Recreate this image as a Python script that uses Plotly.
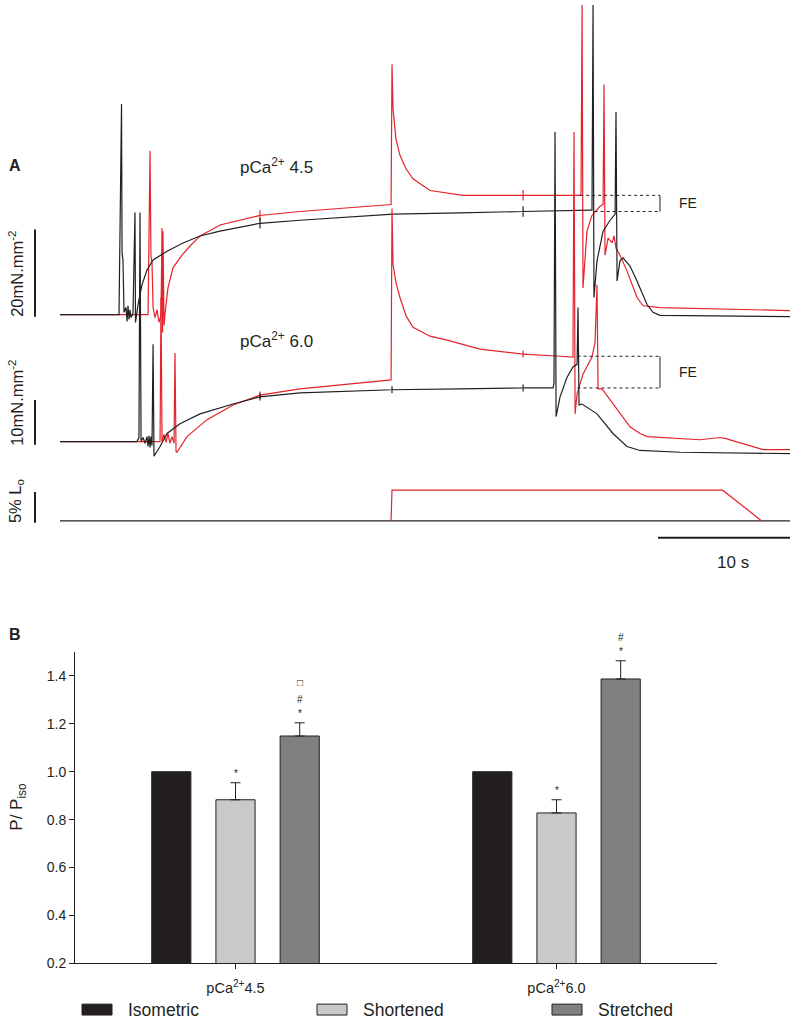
import plotly.graph_objects as go

W, H = 796, 1029
def px(x): return x / W
def py(y): return 1 - y / H

FONT = "Liberation Sans, Arial, sans-serif"
RED = "#E5232B"
BLK = "#231F20"

# ---------------- Panel A data (time in s, force in mN.mm^-2, length in % Lo) ----------------
# pCa 4.5 - isometric (black)
t45_iso = [0, 4.47, 4.66, 4.70, 4.77, 4.85, 5.0, 5.08, 5.15, 5.23, 5.30, 5.38, 5.53, 5.68, 5.72,
           5.83, 5.91, 6.21, 6.59, 7.05, 8.11, 9.32, 10.61, 12.12, 15.15, 15.15, 15.15, 15.15,
           18.18, 25.23, 30.30, 35.08, 35.08, 35.08, 35.08, 40.15, 40.30, 40.38, 40.45, 40.68,
           41.14, 41.67, 42.05, 42.12, 42.20, 42.42, 42.65, 43.18, 43.71, 44.47, 44.92, 45.45,
           48.48, 55.30]
f45_iso = [0, 0, 48.2, 14.1, 12.5, 0.5, 1.6, -1.6, 2.0, -1.1, 1.1, -0.7, 0.2, 23.4, -1.8,
           1.1, 2.3, 6.8, 10.2, 12.5, 14.5, 16.4, 18.0, 19.1, 20.9, 22.1, 19.7, 20.9,
           21.6, 23.0, 23.3, 23.6, 24.8, 22.4, 23.6, 23.9, 23.9, 70.9, 3.9, 12.3,
           19.1, 21.6, 23.0, 46.4, 7.7, 12.3, 13.0, 11.1, 7.7, 2.3, 0.5, -0.2,
           -0.3, -0.5]

# pCa 4.5 - stretched (red)
t45_str = [0, 6.67, 6.82, 6.89, 6.97, 7.05, 7.20, 7.35, 7.50, 7.65, 7.73, 7.77, 7.80, 7.88, 7.95,
           8.18, 8.56, 9.24, 9.85, 10.61, 12.12, 15.15, 15.15, 15.15, 15.15, 18.18, 21.97, 25.08,
           25.15, 25.23, 25.45, 25.76, 26.21, 26.74, 28.03, 30.53, 35.08, 35.08, 35.08, 35.08,
           39.39, 39.47, 39.55, 39.62, 39.92, 40.30, 40.91, 41.14, 41.21, 41.29, 41.52, 41.82,
           41.97, 42.12, 42.42, 42.95, 43.71, 44.17, 45.45, 48.48, 55.30]
f45_str = [0, 0, 37.5, 13.4, 11.8, 1.6, -0.7, 1.1, -1.8, -0.2, 19.8, -4.1, 19.1, -2.5, 0,
           6.1, 10.7, 13.6, 15.7, 18.0, 20.5, 22.7, 23.9, 21.5, 22.7, 23.6, 24.5, 25.2,
           57.3, 47.0, 40.2, 36.4, 33.4, 31.1, 28.4, 27.3, 27.3, 28.5, 26.1, 27.3,
           27.3, 27.7, 70.9, 6.1, 19.1, 22.7, 24.8, 25.2, 52.7, 13.6, 17.5, 16.4,
           18.0, 15.2, 13.6, 10.0, 3.9, 2.0, 1.6, 1.4, 0.9]

# pCa 6.0 - isometric (black)
t60_iso = [0, 5.83, 5.98, 6.06, 6.14, 6.29, 6.44, 6.59, 6.67, 6.74, 6.82, 6.89, 6.97, 7.05, 7.12,
           7.58, 8.11, 9.09, 10.61, 13.11, 15.15, 15.15, 15.15, 15.15, 18.18, 25.15, 25.15, 25.15,
           25.15, 30.30, 35.08, 35.08, 35.08, 35.08, 37.35, 37.42, 37.50, 37.58, 37.88, 38.41,
           38.86, 39.17, 39.24, 39.32, 39.55, 40.68, 41.89, 42.95, 43.94, 46.97, 55.30]
f60_iso = [0, 0, 0.9, 51.3, 0, 0.9, -0.4, 1.1, -1.1, 1.3, -1.3, 1.1, -0.9, 21.8, -3.3,
           -1.1, 1.8, 4.0, 6.2, 8.4, 10.0, 10.8, 9.2, 10.0, 10.9, 11.6, 12.4, 10.8,
           11.6, 11.8, 12.0, 12.8, 11.2, 12.0, 12.0, 13.0, 69.3, 5.6, 10.0, 14.4,
           16.7, 17.3, 30.0, 8.2, 8.4, 6.2, 1.8, -1.1, -2.0, -2.4, -2.7]

# pCa 6.0 - stretched (red)
t60_str = [0, 7.58, 7.65, 7.73, 7.88, 8.03, 8.18, 8.33, 8.48, 8.64, 8.71, 8.79, 8.86, 9.62, 11.14,
           13.11, 15.15, 15.15, 15.15, 15.15, 18.18, 21.97, 25.08, 25.15, 25.23, 25.45, 25.76,
           26.21, 26.74, 28.03, 29.32, 31.82, 35.08, 35.08, 35.08, 35.08, 37.88, 38.86, 38.94,
           39.02, 39.17, 39.62, 40.30, 40.53, 40.68, 40.76, 41.06, 42.20, 43.18, 43.94, 44.47,
           48.48, 50.0, 50.38, 52.05, 53.26, 55.30]
f60_str = [0, 0, 32.2, 0, 1.6, -0.2, 1.8, -0.4, 1.1, -0.4, 19.8, -2.2, -2.4, 1.1, 4.9,
           8.2, 10.4, 11.2, 9.6, 10.4, 11.8, 12.9, 13.8, 52.2, 39.6, 35.6, 32.2,
           28.2, 25.6, 23.6, 22.7, 20.7, 19.6, 20.4, 18.8, 19.6, 19.1, 18.9, 69.3,
           6.2, 10.7, 15.1, 18.9, 22.2, 35.1, 11.8, 11.8, 7.1, 3.3, 1.8, 1.1,
           0.4, 0.9, 0.7, -0.7, -1.8, -1.8]

# Length (% Lo)
t_len_iso = [0, 55.30]
l_len_iso = [0, 0]
t_len_str = [25.08, 25.15, 50.20, 53.16]
l_len_str = [0, 5, 5, 0]

# Force enhancement (FE) levels
fe45 = [23.6, 27.3]   # isometric, stretched
fe60 = [12.0, 19.1]

# ---------------- Panel B data ----------------
conditions = ["pCa 4.5", "pCa 6.0"]
cond_labels = ["pCa<sup>2+</sup>4.5", "pCa<sup>2+</sup>6.0"]
series_names = ["Isometric", "Shortened", "Stretched"]
series_colors = ["#231F20", "#C8C9CB", "#7F8082"]
iso_vals = [1.0, 1.0]
sho_vals = [0.883, 0.828]
sho_err = [0.071, 0.055]
str_vals = [1.149, 1.387]
str_err = [0.055, 0.076]
sig_marks = {  # (series, condition) -> symbols from bottom to top
    (1, 0): ["*"], (2, 0): ["*", "#", "□"],
    (1, 1): ["*"], (2, 1): ["*", "#"],
}
yticks_b = [0.2, 0.4, 0.6, 0.8, 1.0, 1.2, 1.4]

fig = go.Figure()

lw = 1.2
fig.add_trace(go.Scatter(x=t45_str, y=f45_str, mode="lines", line=dict(color=RED, width=lw),
                         xaxis="x", yaxis="y", showlegend=False, hoverinfo="skip"))
fig.add_trace(go.Scatter(x=t45_iso, y=f45_iso, mode="lines", line=dict(color=BLK, width=lw),
                         xaxis="x", yaxis="y", showlegend=False, hoverinfo="skip"))
fig.add_trace(go.Scatter(x=t60_str, y=f60_str, mode="lines", line=dict(color=RED, width=lw),
                         xaxis="x", yaxis="y2", showlegend=False, hoverinfo="skip"))
fig.add_trace(go.Scatter(x=t60_iso, y=f60_iso, mode="lines", line=dict(color=BLK, width=lw),
                         xaxis="x", yaxis="y2", showlegend=False, hoverinfo="skip"))
fig.add_trace(go.Scatter(x=t_len_iso, y=l_len_iso, mode="lines", line=dict(color=BLK, width=lw),
                         xaxis="x", yaxis="y3", showlegend=False, hoverinfo="skip"))
fig.add_trace(go.Scatter(x=t_len_str, y=l_len_str, mode="lines", line=dict(color=RED, width=lw),
                         xaxis="x", yaxis="y3", showlegend=False, hoverinfo="skip"))

# bars
all_vals = [iso_vals, sho_vals, str_vals]
all_errs = [None, sho_err, str_err]
for i, (nm, col) in enumerate(zip(series_names, series_colors)):
    kw = {}
    if all_errs[i] is not None:
        kw["error_y"] = dict(type="data", array=all_errs[i], arrayminus=[0] * len(conditions),
                             symmetric=False, color=BLK, thickness=1, width=5)
    fig.add_trace(go.Bar(x=conditions, y=all_vals[i], name=nm,
                         marker=dict(color=col, line=dict(color=BLK, width=1)),
                         xaxis="x2", yaxis="y4", showlegend=False, hoverinfo="skip", **kw))

# ---------------- layout ----------------
top_px, bot_px = 0, 535
fig.update_layout(
    width=W, height=H, margin=dict(l=0, r=0, t=0, b=0),
    paper_bgcolor="white", plot_bgcolor="rgba(0,0,0,0)",
    font=dict(family=FONT, color=BLK),
    bargap=0.4, bargroupgap=0.39, barmode="group",
    xaxis=dict(domain=[px(60), px(790)], range=[0, 55.3], visible=False, anchor="y"),
    yaxis=dict(domain=[py(bot_px), py(top_px)], range=[-(bot_px - 317) / 4.4, 317 / 4.4],
               visible=False, anchor="x"),
    yaxis2=dict(overlaying="y", anchor="x", range=[-(bot_px - 445) / 4.5, 445 / 4.5], visible=False),
    yaxis3=dict(overlaying="y", anchor="x", range=[-(bot_px - 525) / 6.2, 525 / 6.2], visible=False),
    xaxis2=dict(domain=[px(75), px(717)], anchor="y4", type="category", range=[-0.5, 1.5],
                tickmode="array", tickvals=conditions, ticktext=cond_labels,
                showline=True, linecolor=BLK, linewidth=1, ticks="outside", ticklen=5,
                tickcolor=BLK, tickfont=dict(size=14.5, color=BLK), showgrid=False,
                ticklabelstandoff=6),
    yaxis4=dict(domain=[py(971), py(657)], anchor="x2", range=[0.2, 1.5],
                tickmode="array", tickvals=yticks_b, ticktext=[f"{v:.1f}" for v in yticks_b],
                showline=True, linecolor=BLK, linewidth=1, ticks="outside", ticklen=5,
                tickcolor=BLK, tickfont=dict(size=14, color=BLK), showgrid=False, zeroline=False),
)

shapes = []
ann = []

def text(x, y, s, size, bold=False, angle=0, xanchor="center", yanchor="middle", xref="paper", yref="paper"):
    if bold:
        s = f"<b>{s}</b>"
    ann.append(dict(x=x, y=y, xref=xref, yref=yref, text=s, showarrow=False, textangle=angle,
                    font=dict(size=size, color=BLK, family=FONT), xanchor=xanchor, yanchor=yanchor))

# scale bars panel A
shapes.append(dict(type="line", xref="paper", yref="y", x0=px(35), x1=px(35), y0=-0.5, y1=19.5,
                   line=dict(color=BLK, width=2)))
shapes.append(dict(type="line", xref="paper", yref="y2", x0=px(35), x1=px(35), y0=-0.7, y1=9.3,
                   line=dict(color=BLK, width=2)))
shapes.append(dict(type="line", xref="paper", yref="y3", x0=px(35), x1=px(35), y0=-0.3, y1=4.7,
                   line=dict(color=BLK, width=2)))
shapes.append(dict(type="line", xref="x", yref="paper", x0=55.3 - 10, x1=55.3, y0=py(542), y1=py(542),
                   line=dict(color=BLK, width=2)))

# FE markers
for lev, yr, x0s in ((fe45, "y", (40.5, 39.4)), (fe60, "y2", (39.2, 39.2))):
    for lv, x0 in zip(lev, x0s):
        shapes.append(dict(type="line", xref="x", yref=yr, x0=x0, x1=45.45, y0=lv, y1=lv,
                           line=dict(color=BLK, width=1, dash="dot")))
    shapes.append(dict(type="line", xref="x", yref=yr, x0=45.45, x1=45.45, y0=lev[0], y1=lev[1],
                       line=dict(color=BLK, width=1)))
    ann.append(dict(x=47.6, y=(lev[0] + lev[1]) / 2, xref="x", yref=yr, text="FE", showarrow=False,
                    font=dict(size=14, color=BLK, family=FONT), xanchor="center", yanchor="middle"))

text(px(15), py(167), "A", 16, bold=True)
text(px(276), py(167), "pCa<sup>2+</sup> 4.5", 17)
text(px(276), py(343), "pCa<sup>2+</sup> 6.0", 17)
text(px(16), py(276), "20mN.mm<sup>-2</sup>", 16.5, angle=-90)
text(px(16), py(406), "10mN.mm<sup>-2</sup>", 16.5, angle=-90)
text(px(16), py(505), "5% L<sub>o</sub>", 16.5, angle=-90)
text(px(733), py(567), "10 s", 17)

# Panel B labels
text(px(15), py(639), "B", 16, bold=True)
text(px(18), py(813), "P/ P<sub>iso</sub>", 17, angle=-90)

offsets = [-0.2, 0.0, 0.2]
shifts = [9, 23, 40]
for (si, ci), syms in sig_marks.items():
    top = all_vals[si][ci] + (all_errs[si][ci] if all_errs[si] else 0)
    for k, s in enumerate(syms):
        ann.append(dict(x=ci + offsets[si], y=top, xref="x2", yref="y4", text=s, showarrow=False,
                        yshift=shifts[k], font=dict(size=10, color=BLK, family=FONT),
                        xanchor="center", yanchor="middle"))

# custom legend
leg_x = [82, 317, 552]
for nm, col, lx in zip(series_names, series_colors, leg_x):
    shapes.append(dict(type="rect", xref="paper", yref="paper", x0=px(lx), x1=px(lx + 30),
                       y0=py(1023), y1=py(1012), fillcolor=col, line=dict(color=BLK, width=1)))
    text(px(lx + 44), py(1018), nm, 17.5, xanchor="left")

fig.update_layout(shapes=shapes, annotations=ann)
fig.write_html("out.html", config={"displayModeBar": False},
               post_script="document.body.style.margin='0px';document.body.style.overflow='hidden';")
